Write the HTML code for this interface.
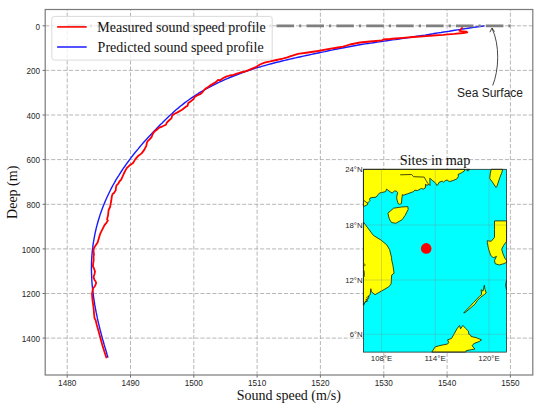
<!DOCTYPE html>
<html><head><meta charset="utf-8"><style>
html,body{margin:0;padding:0;background:#fff;}
svg{display:block;}
.tk{font-family:"Liberation Sans",sans-serif;font-size:8.7px;fill:#262626;}
.mk{font-family:"Liberation Sans",sans-serif;font-size:8px;fill:#262626;}
.sf{font-family:"Liberation Serif",serif;font-size:14px;fill:#111;}
</style></head><body>
<svg width="550" height="418" viewBox="0 0 550 418">
<rect x="0" y="0" width="550" height="418" fill="#fff"/>

<g stroke="#a4a4a4" stroke-width="0.8" stroke-dasharray="4.1,1.87"><line x1="67.2" y1="375.0" x2="67.2" y2="9.5"/><line x1="130.5" y1="375.0" x2="130.5" y2="9.5"/><line x1="193.8" y1="375.0" x2="193.8" y2="9.5"/><line x1="257.1" y1="375.0" x2="257.1" y2="9.5"/><line x1="320.4" y1="375.0" x2="320.4" y2="9.5"/><line x1="383.8" y1="375.0" x2="383.8" y2="9.5"/><line x1="447.1" y1="375.0" x2="447.1" y2="9.5"/><line x1="510.4" y1="375.0" x2="510.4" y2="9.5"/><line x1="45.2" y1="25.8" x2="532.8" y2="25.8"/><line x1="45.2" y1="70.4" x2="532.8" y2="70.4"/><line x1="45.2" y1="115.0" x2="532.8" y2="115.0"/><line x1="45.2" y1="159.6" x2="532.8" y2="159.6"/><line x1="45.2" y1="204.3" x2="532.8" y2="204.3"/><line x1="45.2" y1="248.9" x2="532.8" y2="248.9"/><line x1="45.2" y1="293.5" x2="532.8" y2="293.5"/><line x1="45.2" y1="338.1" x2="532.8" y2="338.1"/></g>
<polyline points="108.0,357.6 107.2,355.0 106.5,352.4 105.7,349.7 104.9,347.1 104.1,344.5 103.4,341.8 102.6,339.2 101.9,336.6 101.2,333.9 100.5,331.2 99.8,328.6 99.2,325.9 98.5,323.2 97.9,320.6 97.3,317.9 96.8,315.2 96.2,312.5 95.7,309.8 95.2,307.1 94.7,304.4 94.3,301.7 93.8,299.0 93.5,296.3 93.1,293.6 92.8,290.9 92.5,288.1 92.2,285.4 92.0,282.7 91.8,280.0 91.7,277.3 91.6,274.5 91.5,271.8 91.4,269.1 91.5,266.3 91.5,263.6 91.6,260.9 91.7,258.2 91.9,255.4 92.2,252.7 92.4,250.0 92.8,247.2 93.1,244.5 93.5,241.8 94.0,239.1 94.5,236.4 95.0,233.7 95.6,231.0 96.2,228.3 96.9,225.6 97.6,223.0 98.4,220.3 99.2,217.7 100.0,215.1 100.9,212.5 101.8,209.9 102.8,207.3 103.8,204.7 104.8,202.2 105.9,199.7 107.0,197.2 108.2,194.7 109.4,192.2 110.6,189.8 111.8,187.4 113.1,185.0 114.5,182.6 115.8,180.2 117.2,177.9 118.7,175.6 120.1,173.3 121.6,171.0 123.1,168.7 124.7,166.5 126.3,164.2 127.9,162.0 129.5,159.8 131.1,157.6 132.8,155.5 134.5,153.3 136.2,151.2 138.0,149.1 139.7,147.0 141.5,144.9 143.3,142.8 145.1,140.8 147.0,138.7 148.8,136.7 150.7,134.7 152.6,132.7 154.5,130.7 156.4,128.8 158.3,126.8 160.2,124.8 162.2,122.9 164.1,121.0 166.1,119.1 168.0,117.2 170.0,115.3 172.1,113.5 174.1,111.6 176.1,109.8 178.2,108.1 180.3,106.3 182.5,104.6 184.6,102.9 186.8,101.3 189.0,99.7 191.2,98.1 193.5,96.6 195.8,95.1 198.1,93.7 200.4,92.2 202.8,90.8 205.2,89.5 207.5,88.1 210.0,86.8 212.4,85.6 214.8,84.3 217.3,83.1 219.8,81.9 222.3,80.8 224.8,79.7 227.3,78.6 229.8,77.5 232.4,76.5 234.9,75.5 237.5,74.5 240.0,73.5 242.6,72.6 245.2,71.7 247.8,70.8 250.4,69.9 253.0,69.1 255.6,68.2 258.2,67.4 260.9,66.7 263.5,65.9 266.1,65.2 268.8,64.4 271.4,63.7 274.1,63.0 276.7,62.3 279.4,61.7 282.0,61.0 284.7,60.4 287.4,59.7 290.0,59.1 292.7,58.5 295.4,57.9 298.1,57.3 300.7,56.7 303.4,56.1 306.1,55.5 308.8,55.0 311.5,54.4 314.2,53.8 316.8,53.3 319.5,52.7 322.2,52.1 324.9,51.6 327.6,51.0 330.3,50.4 332.9,49.9 335.6,49.3 338.3,48.8 341.0,48.3 343.7,47.7 346.4,47.2 349.1,46.7 351.8,46.2 354.4,45.7 357.1,45.3 359.8,44.8 362.5,44.3 365.2,43.9 367.9,43.5 370.7,43.1 373.4,42.7 376.1,42.3 378.8,41.9 381.5,41.5 384.2,41.1 386.9,40.7 389.6,40.3 392.4,39.9 395.1,39.6 397.8,39.2 400.5,38.8 403.2,38.4 405.9,38.0 408.6,37.6 411.3,37.2 414.1,36.8 416.8,36.3 419.5,35.9 422.2,35.5 424.9,35.1 427.6,34.6 430.3,34.2 433.0,33.8 435.7,33.3 438.4,32.9 441.1,32.5 443.8,32.0 446.5,31.6 449.2,31.2 452.0,30.7 454.7,30.3 457.4,29.9 460.1,29.5 462.8,29.0 465.5,28.6 468.2,28.2 470.9,27.8 473.6,27.4 476.3,27.0 479.1,26.6 481.8,26.3 484.5,25.9" fill="none" stroke="#1a1aff" stroke-width="1.4" stroke-linejoin="round"/>
<polyline points="106.6,358.2 104.5,352.0 102.3,345.0 100.4,338.1 98.5,331.0 96.8,325.0 95.6,320.0 94.5,318.2 94.0,313.1 93.5,307.1 92.5,300.1 92.0,294.0 93.0,288.5 95.0,286.0 96.2,283.0 95.4,281.0 94.5,280.0 93.5,276.9 94.5,274.2 95.0,271.6 94.0,268.5 92.9,266.4 93.2,263.2 93.7,260.1 93.5,256.9 94.0,254.3 93.5,251.7 93.7,248.5 95.6,245.4 97.7,242.2 98.8,238.5 99.8,235.0 100.5,233.1 102.5,229.1 104.5,225.1 106.6,222.6 107.9,220.6 107.1,219.1 108.1,215.1 108.6,210.0 110.1,207.0 110.6,204.0 111.3,200.5 111.8,196.6 112.6,194.0 114.0,193.0 115.8,190.1 115.9,187.9 116.5,185.4 118.3,183.6 119.4,181.5 121.2,179.7 122.3,177.2 123.7,174.0 125.3,170.6 126.7,168.2 129.1,165.8 133.0,163.0 135.4,159.1 137.8,156.3 141.6,153.4 144.4,149.6 146.4,145.7 146.7,143.5 147.5,141.4 149.6,139.3 151.7,136.8 152.6,134.3 154.2,131.8 156.8,129.7 159.3,127.6 162.6,126.3 166.0,124.7 166.8,122.6 168.9,120.5 171.4,118.4 172.2,115.5 174.5,113.8 177.0,112.6 182.1,109.7 185.8,106.8 187.5,105.9 188.3,103.0 191.3,100.9 193.4,99.2 194.6,97.1 197.1,95.5 200.1,94.2 202.2,92.5 204.2,90.0 205.5,88.6 207.5,87.5 210.8,85.0 215.9,82.1 218.1,79.9 220.3,80.3 222.5,78.5 226.1,76.6 229.7,75.5 233.4,74.8 237.7,73.4 240.5,72.5 245.5,71.4 250.9,69.1 256.4,66.8 260.0,64.5 264.5,62.7 270.0,61.4 276.4,60.0 282.7,58.6 287.3,57.3 290.0,56.4 298.0,53.8 308.0,52.5 318.0,51.0 328.0,49.2 338.0,47.5 343.0,46.6 350.0,44.5 360.0,42.5 370.0,41.5 382.0,40.3 383.5,39.5 390.0,39.0 395.0,38.5 403.0,37.8 413.0,37.0 423.0,36.3 433.0,35.5 443.0,34.8 448.0,34.3 454.1,33.9 463.2,33.0 467.3,32.4 466.5,31.7 463.0,31.3 459.5,30.9 461.0,29.3 462.5,27.3" fill="none" stroke="#ff0000" stroke-width="1.8" stroke-linejoin="round"/>
<line x1="67.2" y1="25.8" x2="510.4" y2="25.8" stroke="#7f7f7f" stroke-width="2.8" stroke-dasharray="17.6,5.0,2.3,5.0"/>
<g stroke="#444" stroke-width="0.8"><line x1="67.2" y1="375.0" x2="67.2" y2="377.6"/><line x1="130.5" y1="375.0" x2="130.5" y2="377.6"/><line x1="193.8" y1="375.0" x2="193.8" y2="377.6"/><line x1="257.1" y1="375.0" x2="257.1" y2="377.6"/><line x1="320.4" y1="375.0" x2="320.4" y2="377.6"/><line x1="383.8" y1="375.0" x2="383.8" y2="377.6"/><line x1="447.1" y1="375.0" x2="447.1" y2="377.6"/><line x1="510.4" y1="375.0" x2="510.4" y2="377.6"/><line x1="42.6" y1="25.8" x2="45.2" y2="25.8"/><line x1="42.6" y1="70.4" x2="45.2" y2="70.4"/><line x1="42.6" y1="115.0" x2="45.2" y2="115.0"/><line x1="42.6" y1="159.6" x2="45.2" y2="159.6"/><line x1="42.6" y1="204.3" x2="45.2" y2="204.3"/><line x1="42.6" y1="248.9" x2="45.2" y2="248.9"/><line x1="42.6" y1="293.5" x2="45.2" y2="293.5"/><line x1="42.6" y1="338.1" x2="45.2" y2="338.1"/></g>
<rect x="45.2" y="9.5" width="487.6" height="365.5" fill="none" stroke="#7a7a7a" stroke-width="1.2"/>
<text class="tk" x="67.2" y="385.6" text-anchor="middle" textLength="18.2" lengthAdjust="spacingAndGlyphs">1480</text>
<text class="tk" x="130.5" y="385.6" text-anchor="middle" textLength="18.2" lengthAdjust="spacingAndGlyphs">1490</text>
<text class="tk" x="193.8" y="385.6" text-anchor="middle" textLength="18.2" lengthAdjust="spacingAndGlyphs">1500</text>
<text class="tk" x="257.1" y="385.6" text-anchor="middle" textLength="18.2" lengthAdjust="spacingAndGlyphs">1510</text>
<text class="tk" x="320.4" y="385.6" text-anchor="middle" textLength="18.2" lengthAdjust="spacingAndGlyphs">1520</text>
<text class="tk" x="383.8" y="385.6" text-anchor="middle" textLength="18.2" lengthAdjust="spacingAndGlyphs">1530</text>
<text class="tk" x="447.1" y="385.6" text-anchor="middle" textLength="18.2" lengthAdjust="spacingAndGlyphs">1540</text>
<text class="tk" x="510.4" y="385.6" text-anchor="middle" textLength="18.2" lengthAdjust="spacingAndGlyphs">1550</text>
<text class="tk" x="40" y="29.5" text-anchor="end" textLength="4.5" lengthAdjust="spacingAndGlyphs">0</text>
<text class="tk" x="40" y="74.1" text-anchor="end" textLength="13.6" lengthAdjust="spacingAndGlyphs">200</text>
<text class="tk" x="40" y="118.7" text-anchor="end" textLength="13.6" lengthAdjust="spacingAndGlyphs">400</text>
<text class="tk" x="40" y="163.3" text-anchor="end" textLength="13.6" lengthAdjust="spacingAndGlyphs">600</text>
<text class="tk" x="40" y="208.0" text-anchor="end" textLength="13.6" lengthAdjust="spacingAndGlyphs">800</text>
<text class="tk" x="40" y="252.6" text-anchor="end" textLength="18.2" lengthAdjust="spacingAndGlyphs">1000</text>
<text class="tk" x="40" y="297.2" text-anchor="end" textLength="18.2" lengthAdjust="spacingAndGlyphs">1200</text>
<text class="tk" x="40" y="341.8" text-anchor="end" textLength="18.2" lengthAdjust="spacingAndGlyphs">1400</text>
<text class="sf" x="288.8" y="399.8" text-anchor="middle">Sound speed (m/s)</text>
<text class="sf" transform="translate(16.8,192.3) rotate(-90)" x="0" y="0" text-anchor="middle">Deep (m)</text>
<rect x="51.8" y="16.4" width="220.4" height="43.7" rx="2.5" fill="#fff" fill-opacity="0.8" stroke="#d6d6d6" stroke-width="0.9"/>
<line x1="57.1" y1="26.9" x2="86.7" y2="26.9" stroke="#ff0000" stroke-width="1.6"/>
<line x1="57.1" y1="47.0" x2="86.7" y2="47.0" stroke="#1a1aff" stroke-width="1.5"/>
<text class="sf" x="97.3" y="31.8">Measured sound speed profile</text>
<text class="sf" x="97.6" y="52.2">Predicted sound speed profile</text>
<path d="M492.7,85.5 C499,70 500,45 492,28.3" fill="none" stroke="#333" stroke-width="0.9"/>
<path d="M489.9,32.2 L492,28.0 L494.5,31.6" fill="none" stroke="#333" stroke-width="0.9"/>
<text style="font-family:'Liberation Sans',sans-serif;font-size:12px;fill:#222" x="490" y="96.7" text-anchor="middle">Sea Surface</text>
<rect x="363.4" y="169.3" width="143.2" height="182.8" fill="#00ffff"/>
<g fill="#ffff00" stroke="#1a1a00" stroke-width="0.8" stroke-linejoin="round"><polygon points="363.4,169.3 465.1,169.3 464.0,171.3 461.3,172.9 458.0,174.5 458.5,176.2 456.9,178.9 453.1,180.5 449.3,181.6 447.1,180.0 445.5,180.5 443.3,182.2 442.2,181.1 438.9,182.4 438.0,184.7 436.7,185.3 435.8,183.3 432.6,180.6 429.8,178.2 430.0,185.5 428.5,184.0 427.8,185.1 426.7,185.5 425.6,184.0 425.3,188.0 423.1,189.1 421.3,188.4 420.2,189.1 417.6,190.5 414.7,190.2 413.6,191.6 407.5,193.8 403.1,195.3 402.4,194.5 401.9,198.1 401.4,203.6 399.6,204.3 398.1,203.6 397.1,200.1 396.6,197.6 397.6,192.6 396.6,191.3 394.6,190.9 392.1,193.1 389.1,191.1 386.6,189.1 385.6,191.6 381.6,192.6 379.6,192.9 376.1,197.1 372.0,197.6 370.0,198.1 369.5,199.6 370.0,200.6 368.0,202.6 367.5,204.6 363.4,206.7"/><polygon points="466.5,169.3 469.5,169.3 468.5,170.8 467.0,170.6"/><polygon points="387.9,213.2 393.6,208.2 401.5,207.0 407.8,206.6 408.2,209.4 405.1,215.4 402.2,219.7 395.8,223.3 391.5,222.5 389.3,219.0"/><polygon points="491.2,169.3 502.7,169.3 501.8,172.7 499.9,177.4 497.0,186.1 496.0,187.6 493.2,183.2 489.7,178.4 490.3,173.6"/><polygon points="494.5,220.9 506.6,220.9 506.6,241.3 503.7,245.3 501.7,249.2 503.0,253.8 505.0,258.4 506.6,260.4 506.6,262.4 503.7,263.7 499.1,265.0 495.2,263.7 494.5,260.4 496.5,256.4 493.2,257.8 490.6,255.1 488.6,249.2 487.3,242.6 487.3,240.7 491.2,241.3 494.5,237.4 494.5,229.5"/><polygon points="363.4,222.0 367.6,227.7 373.4,235.4 381.0,240.1 386.8,244.9 389.6,249.7 391.5,257.3 391.7,260.0 392.9,265.4 394.1,273.2 391.7,275.0 391.1,283.9 388.7,286.9 375.0,294.7 371.4,291.7 370.8,288.7 370.2,294.7 368.4,295.9 369.0,297.7 366.6,299.5 367.2,301.3 365.4,301.3 364.2,304.3 363.4,305.5"/><polygon points="463.7,312.9 469.5,306.8 473.5,302.6 476.5,299.4 479.5,296.3 481.6,294.6 481.2,289.8 483.0,291.2 484.3,285.2 485.0,289.5 486.2,293.0 484.3,294.6 480.5,297.3 477.5,300.3 474.8,304.3 471.0,307.6 465.0,312.6"/><polygon points="431.8,352.1 435.1,346.9 440.0,345.5 447.6,344.0 448.7,342.5 447.6,339.8 451.5,338.5 454.2,333.8 456.9,328.9 459.6,325.4 460.5,328.9 462.9,325.4 465.6,328.4 468.4,331.1 468.9,334.4 470.5,334.9 471.1,336.5 476.0,337.6 481.5,339.8 479.3,341.5 473.8,343.6 472.2,345.8 474.9,349.1 471.6,349.6 466.2,350.7 465.6,352.1"/></g>
<polyline points="400.2,174.8 411.6,174.5 413.6,176.7 424.2,177.1 426,180.4 427.8,183.3 428.5,184" fill="none" stroke="#1a1a00" stroke-width="0.8"/>
<polyline points="363.4,200.1 368,203.6" fill="none" stroke="#1a1a00" stroke-width="0.8"/>
<polyline points="506.6,280 505.6,285 506.6,290" fill="none" stroke="#1a1a00" stroke-width="0.8"/>
<g fill="none" stroke="#1a1a00" stroke-width="0.7"><polyline points="364.2,263.5 365.2,265 364.2,266.2"/><polyline points="364.1,270.5 364.4,274 364.1,277"/><polyline points="366.2,297.6 369.4,296.2"/><polyline points="365.4,299.8 368.6,298.6"/><polyline points="364.6,302.4 367.6,300.6"/></g>
<g stroke="#808080" stroke-opacity="0.3" stroke-width="1"><line x1="381.5" y1="169.3" x2="381.5" y2="352.1"/><line x1="435.2" y1="169.3" x2="435.2" y2="352.1"/><line x1="489.0" y1="169.3" x2="489.0" y2="352.1"/><line x1="363.4" y1="225.0" x2="506.6" y2="225.0"/><line x1="363.4" y1="280.0" x2="506.6" y2="280.0"/><line x1="363.4" y1="334.3" x2="506.6" y2="334.3"/></g>
<circle cx="426.2" cy="248.4" r="5.3" fill="#ff0000"/>
<rect x="363.4" y="169.3" width="143.2" height="182.8" fill="none" stroke="#222" stroke-width="0.75"/>
<text class="mk" x="362.6" y="172.3" text-anchor="end" textLength="17.4" lengthAdjust="spacingAndGlyphs">24°N</text>
<text class="mk" x="362.6" y="228.0" text-anchor="end" textLength="17.4" lengthAdjust="spacingAndGlyphs">18°N</text>
<text class="mk" x="362.6" y="282.8" text-anchor="end" textLength="17.4" lengthAdjust="spacingAndGlyphs">12°N</text>
<text class="mk" x="362.6" y="337.3" text-anchor="end" textLength="12.9" lengthAdjust="spacingAndGlyphs">6°N</text>
<text class="mk" x="381.5" y="361.1" text-anchor="middle" textLength="21.4" lengthAdjust="spacingAndGlyphs">108°E</text>
<text class="mk" x="435.2" y="361.1" text-anchor="middle" textLength="21.4" lengthAdjust="spacingAndGlyphs">114°E</text>
<text class="mk" x="489.0" y="361.1" text-anchor="middle" textLength="21.4" lengthAdjust="spacingAndGlyphs">120°E</text>
<text class="sf" x="435.0" y="165.0" text-anchor="middle" style="font-size:14.3px">Sites in map</text>
</svg></body></html>
